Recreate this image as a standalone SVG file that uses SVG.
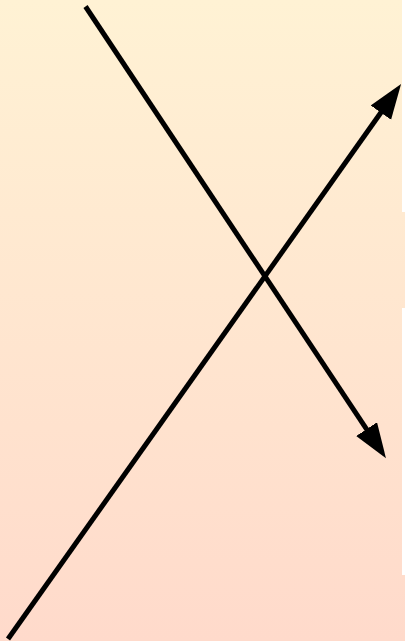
<svg xmlns="http://www.w3.org/2000/svg" width="405" height="641" viewBox="0 0 405 641">
  <defs>
    <linearGradient id="bg" gradientUnits="userSpaceOnUse" x1="0" y1="0" x2="0" y2="641">
      <stop offset="0" stop-color="#FFF2D4"/>
      <stop offset="1" stop-color="#FFDACB"/>
    </linearGradient>
    <marker id="arrow" markerUnits="userSpaceOnUse" markerWidth="40" markerHeight="30" refX="2" refY="12.5" orient="auto">
      <path d="M0,0 L35,12.5 L0,25 z" fill="#000"/>
    </marker>
  </defs>
  <style>
    .conn { fill: none; stroke: #000; stroke-width: 5; marker-end: url(#arrow); }
  </style>
  <rect width="405" height="641" fill="#FFFFFF"/>
  <g id="background">
    <rect x="0" y="0" width="402" height="641" fill="url(#bg)"/>
    <rect x="401" y="212" width="4" height="96" fill="url(#bg)"/>
    <rect x="401" y="575" width="4" height="66" fill="url(#bg)"/>
  </g>
  <g id="connectors">
    <path class="conn" d="M85.5,6.5 L367.7,430.8"/>
    <path class="conn" d="M8,639 L382,111"/>
  </g>
</svg>
